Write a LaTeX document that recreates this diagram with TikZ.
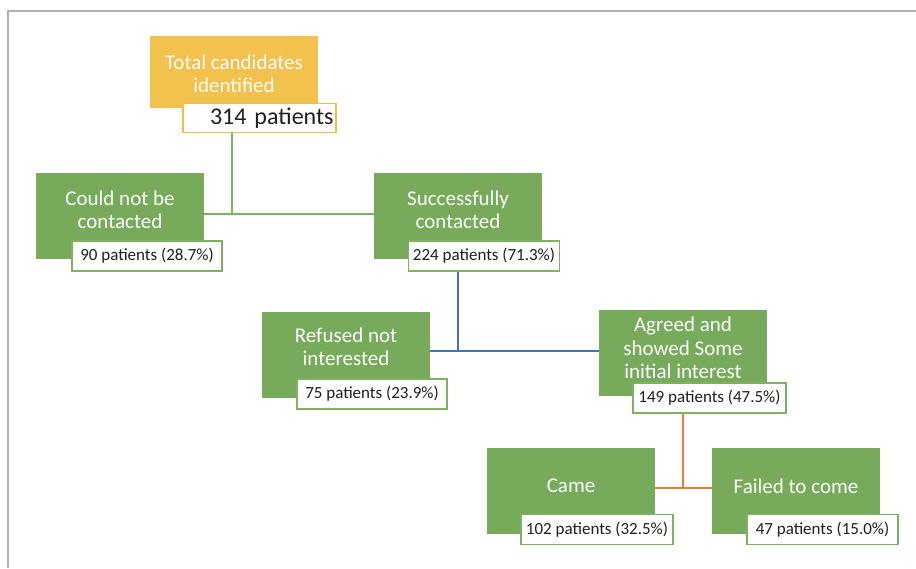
\documentclass[tikz,border=0pt]{standalone}
\usepackage{fontspec}
\setmainfont{Carlito}
\definecolor{boxgreen}{HTML}{77AB5B}
\definecolor{labgreen}{HTML}{7DB35E}
\definecolor{boxyellow}{HTML}{F2C14E}
\definecolor{labyellow}{HTML}{F4BE45}
\definecolor{lineblue}{HTML}{4472C4}
\definecolor{lineorange}{HTML}{ED7D31}
\definecolor{framegray}{HTML}{B0B0B0}
\begin{document}
\begin{tikzpicture}[x=1pt,y=-1pt,
  box/.style={fill=boxgreen, minimum width=168pt, minimum height=86pt, inner sep=0pt},
  btext/.style={text=white!97!boxgreen, font=\fontsize{21}{23.5}\selectfont, align=center, inner sep=0pt},
  lab/.style={draw=labgreen, fill=white, line width=1.4pt, minimum height=30pt, inner sep=0pt,
    font=\fontsize{17}{20}\selectfont, text=black!88},
  conn/.style={line width=1.8pt},
]
\useasboundingbox (0,0) rectangle (916,568);
\draw[framegray, line width=1.5pt] (916,11) -- (8,11) -- (8,568);

% boxes
\node[box, fill=boxyellow, minimum width=168pt, minimum height=72pt] (t) at (234,72) {};
\node[btext] (tt) at (234,74) {Total candidates\\identified};
\node[box] (c1) at (120,216) {};
\node[btext] (c1t) at (120,210) {Could not be\\contacted};
\node[box] (c2) at (458,216) {};
\node[btext] (c2t) at (458,210) {Successfully\\contacted};
\node[box] (r) at (346,354.5) {};
\node[btext] (rt) at (346,347) {Refused not\\interested};
\node[box] (a) at (683,353) {};
\node[btext] (at) at (683,348) {Agreed and\\showed Some\\initial interest};
\node[box] (cm) at (571,491) {};
\node[btext] (cmt) at (571,486) {Came};
\node[box] (f) at (796,491) {};
\node[btext] (ft) at (796,486) {Failed to come};

% connectors
\draw[conn, labgreen] (232,132) -- (232,214);
\draw[conn, labgreen] (c1.east |- 0,214) -- (c2.west |- 0,214);
\draw[conn, lineblue] (c2.south) -- (c2.south |- 0,351);
\draw[conn, lineblue] (r.east |- 0,351) -- (a.west |- 0,351);
\draw[conn, lineorange] (a.south) -- (a.south |- 0,488);
\draw[conn, lineorange] (cm.east |- 0,488) -- (f.west |- 0,488);

% labels
\node[lab, draw=labyellow, minimum width=153pt, minimum height=29pt, text width=148pt, align=right,
  font=\fontsize{24}{28}\selectfont] (l314) at (259.5,118) {314 patients};
\node[lab, minimum width=150pt] (l90) at (147,256) {90 patients (28.7\%)};
\node[lab, minimum width=151pt] (l224) at (484,256) {224 patients (71.3\%)};
\node[lab, minimum width=150pt] (l75) at (372,394) {75 patients (23.9\%)};
\node[lab, minimum width=153pt] (l149) at (709.5,398) {149 patients (47.5\%)};
\node[lab, minimum width=152pt] (l102) at (597,529.5) {102 patients (32.5\%)};
\node[lab, minimum width=151pt] (l47) at (822.5,529.5) {47 patients (15.0\%)};
\end{tikzpicture}
\end{document}
